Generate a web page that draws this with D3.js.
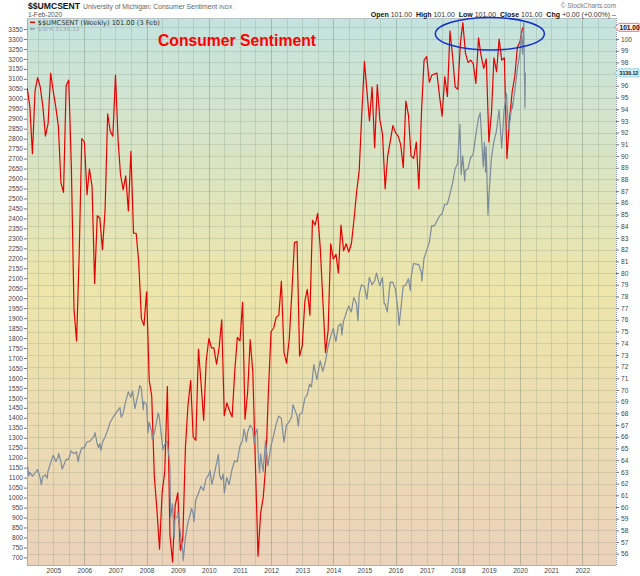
<!DOCTYPE html>
<html>
<head>
<meta charset="utf-8">
<script src="https://cdn.jsdelivr.net/npm/d3@7"></script>
<style>
  html, body { margin: 0; padding: 0; background: #fff; }
  svg { display: block; font-family: "Liberation Sans", Arial, sans-serif; }
  .axis text { font-size: 6.6px; fill: #444; }
  .axis line { stroke: #777; }
  .axis path { display: none; }
</style>
</head>
<body>
<div id="chart"></div>
<script>
/* $$UMCSENT weekly (red, right axis) with $SPX overlay (grey, left axis) */

// University of Michigan sentiment, monthly values Mar 2004 .. Feb 2020
const sentStart = "2004-03-01";
const sentValues = [
  95.8, 94.2, 90.2, 95.6, 96.7, 95.9, 94.2, 91.7, 92.8, 97.1,
  95.5, 94.1, 92.6, 87.7, 86.9, 96.0, 96.5, 89.1, 76.9, 74.2, 81.6, 91.5,
  91.2, 86.7, 88.9, 87.4, 79.1, 84.9, 84.7, 82.0, 85.4, 93.6, 92.1, 91.7,
  96.9, 91.3, 88.4, 87.1, 88.3, 85.3, 90.4, 83.4, 83.4, 80.9, 76.1, 75.5,
  78.4, 70.8, 69.5, 62.6, 59.8, 56.4, 61.2, 63.0, 70.3, 57.6, 55.3, 60.1,
  61.2, 56.3, 57.3, 65.1, 68.7, 70.8, 66.0, 65.7, 73.5, 70.6, 67.4, 72.5,
  74.4, 73.6, 73.6, 72.2, 73.6, 76.0, 67.8, 68.9, 68.2, 67.7, 71.6, 74.5,
  74.2, 77.5, 67.5, 69.8, 74.3, 71.5, 63.7, 55.8, 59.5, 60.8, 63.7, 69.9,
  75.0, 75.3, 76.2, 76.4, 79.3, 73.2, 72.3, 74.3, 78.3, 82.6, 82.7, 72.9,
  73.8, 77.6, 78.6, 76.4, 84.5, 84.1, 85.1, 82.1, 77.5, 73.2, 75.1, 82.5,
  81.2, 81.6, 80.0, 84.1, 81.9, 82.5, 81.8, 82.5, 84.6, 86.9, 88.8, 93.6,
  98.1, 95.4, 93.0, 95.9, 90.7, 96.1, 93.1, 91.9, 87.2, 90.0, 91.3, 92.6,
  92.0, 91.7, 91.0, 89.0, 94.7, 93.5, 90.0, 89.8, 91.2, 87.2, 93.8, 98.2,
  98.5, 96.3, 96.9, 97.0, 97.1, 95.1, 93.4, 96.8, 95.1, 100.7, 98.5, 95.9,
  95.7, 99.7, 101.4, 98.8, 98.0, 98.2, 97.9, 96.2, 100.1, 98.6, 97.5, 98.3,
  91.2, 93.8, 98.4, 97.2, 100.0, 98.2, 98.4, 89.8, 93.2, 95.5, 96.8, 99.3,
  99.8, 101.0
];

// S&P 500 closes (month ends plus notable weekly swings)
const spxPoints = [
  ["2004-03-05",1156.9],["2004-03-19",1109.8],["2004-03-31",1126.2],["2004-04-30",1107.3],["2004-05-28",1120.7],
  ["2004-06-30",1140.8],["2004-07-30",1101.7],["2004-08-13",1064.8],["2004-08-31",1104.2],["2004-09-30",1114.6],
  ["2004-10-22",1095.7],["2004-10-29",1130.2],["2004-11-30",1173.8],["2004-12-31",1211.9],
  ["2005-01-31",1181.3],["2005-02-28",1203.6],["2005-03-04",1222.1],["2005-03-31",1180.6],["2005-04-15",1142.6],
  ["2005-04-29",1156.9],["2005-05-31",1191.5],["2005-06-30",1191.3],["2005-07-29",1234.2],["2005-08-31",1220.3],
  ["2005-09-30",1228.8],["2005-10-21",1179.6],["2005-10-31",1207.0],["2005-11-30",1249.5],["2005-12-30",1248.3],
  ["2006-01-31",1280.1],["2006-02-28",1280.7],["2006-03-31",1294.8],["2006-04-28",1310.6],["2006-05-05",1325.8],
  ["2006-05-31",1270.1],["2006-06-16",1251.5],["2006-06-30",1270.2],["2006-07-14",1236.2],["2006-07-31",1276.7],
  ["2006-08-31",1303.8],["2006-09-29",1335.9],["2006-10-31",1377.9],["2006-11-30",1400.6],["2006-12-29",1418.3],
  ["2007-01-31",1438.2],["2007-02-23",1451.2],["2007-03-09",1402.8],["2007-03-30",1420.9],["2007-04-30",1482.4],
  ["2007-05-31",1530.6],["2007-06-29",1503.4],["2007-07-20",1534.1],["2007-08-17",1445.9],["2007-08-31",1474.0],
  ["2007-09-28",1526.8],["2007-10-12",1561.8],["2007-10-31",1549.4],["2007-11-23",1440.7],["2007-11-30",1481.1],
  ["2007-12-31",1468.4],
  ["2008-01-18",1325.2],["2008-01-31",1378.6],["2008-02-29",1330.6],["2008-03-07",1293.4],["2008-03-31",1322.7],
  ["2008-04-30",1385.6],["2008-05-16",1425.4],["2008-05-30",1400.4],["2008-06-30",1280.0],["2008-07-11",1239.5],
  ["2008-07-31",1267.4],["2008-08-29",1282.8],["2008-09-30",1166.4],["2008-10-10",899.2],["2008-10-31",968.8],
  ["2008-11-21",800.0],["2008-11-28",896.2],["2008-12-31",903.3],
  ["2009-01-02",931.8],["2009-01-30",825.9],["2009-02-27",735.1],["2009-03-06",683.4],["2009-03-31",797.9],
  ["2009-04-30",872.8],["2009-05-29",919.1],["2009-06-12",946.2],["2009-06-30",919.3],["2009-07-10",879.1],
  ["2009-07-31",987.5],["2009-08-31",1020.6],["2009-09-30",1057.1],["2009-10-30",1036.2],["2009-11-30",1095.6],
  ["2009-12-31",1115.1],
  ["2010-01-15",1136.0],["2010-02-05",1066.2],["2010-02-26",1104.5],["2010-03-31",1169.4],["2010-04-23",1217.3],
  ["2010-05-07",1110.9],["2010-05-28",1089.4],["2010-06-18",1117.5],["2010-07-02",1022.6],["2010-07-30",1101.6],
  ["2010-08-27",1064.6],["2010-09-30",1141.2],["2010-10-29",1183.3],["2010-11-30",1180.6],["2010-12-31",1257.6],
  ["2011-01-31",1286.1],["2011-02-18",1343.0],["2011-03-18",1279.2],["2011-03-31",1325.8],["2011-04-29",1363.6],
  ["2011-05-31",1345.2],["2011-06-17",1271.5],["2011-06-30",1320.6],["2011-07-22",1345.0],["2011-08-05",1199.4],
  ["2011-08-19",1123.5],["2011-08-31",1218.9],["2011-09-30",1131.4],["2011-10-28",1285.1],["2011-11-25",1158.7],
  ["2011-12-30",1257.6],
  ["2012-01-31",1312.4],["2012-02-29",1365.7],["2012-03-30",1408.5],["2012-04-30",1397.9],["2012-06-01",1278.0],
  ["2012-06-29",1362.2],["2012-07-31",1379.3],["2012-08-31",1406.6],["2012-09-14",1465.8],["2012-10-31",1412.2],
  ["2012-11-16",1359.9],["2012-11-30",1416.2],["2012-12-31",1426.2],
  ["2013-01-31",1498.1],["2013-02-28",1514.7],["2013-03-28",1569.2],["2013-04-19",1555.3],["2013-04-30",1597.6],
  ["2013-05-17",1667.5],["2013-06-21",1592.4],["2013-06-28",1606.3],["2013-07-31",1685.7],["2013-08-30",1633.0],
  ["2013-09-30",1681.6],["2013-10-31",1756.5],["2013-11-29",1805.8],["2013-12-31",1848.4],
  ["2014-01-31",1782.6],["2014-02-28",1859.5],["2014-03-31",1872.3],["2014-04-11",1815.7],["2014-04-30",1884.0],
  ["2014-05-30",1923.6],["2014-06-30",1960.2],["2014-07-31",1930.7],["2014-08-29",2003.4],["2014-09-30",1972.3],
  ["2014-10-17",1886.8],["2014-10-31",2018.1],["2014-11-28",2067.6],["2014-12-31",2058.9],
  ["2015-01-30",1995.0],["2015-02-27",2104.5],["2015-03-31",2067.9],["2015-04-30",2085.5],["2015-05-22",2126.1],
  ["2015-06-30",2063.1],["2015-07-31",2103.8],["2015-08-21",1970.9],["2015-08-31",1972.2],["2015-09-25",1931.3],
  ["2015-10-30",2079.4],["2015-11-30",2080.4],["2015-12-31",2043.9],
  ["2016-01-29",1940.2],["2016-02-12",1864.8],["2016-02-29",1932.2],["2016-03-31",2059.7],["2016-04-29",2065.3],
  ["2016-05-31",2097.0],["2016-06-24",2037.4],["2016-06-30",2098.9],["2016-07-29",2173.6],["2016-08-31",2171.0],
  ["2016-09-30",2168.3],["2016-10-31",2126.2],["2016-11-04",2085.2],["2016-11-30",2198.8],["2016-12-30",2238.8],
  ["2017-01-31",2278.9],["2017-02-28",2363.6],["2017-03-31",2362.7],["2017-04-28",2384.2],["2017-05-31",2411.8],
  ["2017-06-30",2423.4],["2017-07-31",2470.3],["2017-08-31",2471.7],["2017-09-29",2519.4],["2017-10-31",2575.3],
  ["2017-11-30",2647.6],["2017-12-29",2673.6],
  ["2018-01-26",2872.9],["2018-02-09",2619.6],["2018-02-28",2713.8],["2018-03-23",2588.3],["2018-03-30",2640.9],
  ["2018-04-30",2648.1],["2018-05-31",2705.3],["2018-06-29",2718.4],["2018-07-31",2816.3],["2018-08-31",2901.5],
  ["2018-09-21",2929.7],["2018-10-26",2658.7],["2018-11-09",2781.0],["2018-11-23",2632.6],["2018-11-30",2760.2],
  ["2018-12-21",2416.6],["2018-12-31",2506.9],
  ["2019-01-31",2704.1],["2019-02-28",2784.5],["2019-03-29",2834.4],["2019-04-30",2945.8],["2019-05-31",2752.1],
  ["2019-06-28",2941.8],["2019-07-26",3025.9],["2019-08-09",2918.7],["2019-08-23",2847.1],["2019-09-30",2976.7],
  ["2019-10-04",2952.0],["2019-10-31",3037.6],["2019-11-29",3141.0],["2019-12-31",3230.8],
  ["2020-01-17",3329.6],["2020-01-31",3225.5],["2020-02-14",3380.2],["2020-02-28",2954.2],["2020-03-04",3130.1]
];

const yearTicks = d3.range(2005, 2023);
const spxTicks = d3.range(700, 3351, 50);
const sentTicks = [56, 57, 58, 59, 60, 61, 62, 63, 64, 65, 66, 67, 68, 69, 70, 71, 72, 73, 74, 75, 76, 77, 78,
  79, 80, 81, 82, 83, 84, 85, 86, 87, 88, 89, 90, 91, 92, 93, 94, 95, 96, 98, 99, 100];  // 97 sits under the SPX tag
const sentLast = 101.00;
const spxLast = 3130.12;

// ---- layout ----
const W = 640, H = 576;
const plot = { left: 27, right: 616, top: 18, bottom: 565 };
const parse = d3.timeParse("%Y-%m-%d");

const sentDates = d3.timeMonth.range(parse(sentStart), d3.timeMonth.offset(parse(sentStart), sentValues.length));
const sent = sentValues.map((v, i) => ({ date: sentDates[i], value: v }));
const spx = spxPoints.map(([d, v]) => ({ date: parse(d), value: v }));

// x calibrated on year marks; the plot window clips the rest
const x = d3.scaleTime()
  .domain([new Date(2005, 0, 1), new Date(2020, 0, 1)])
  .range([53.3, 520]);
const yL = d3.scaleLinear().domain([662, 3405]).range([plot.bottom, plot.top]);
const yR = d3.scaleLinear().domain([55.04, 101.8]).range([plot.bottom, plot.top]);

const svg = d3.select("#chart").append("svg")
  .attr("width", W).attr("height", H);

const defs = svg.append("defs");
const grad = defs.append("linearGradient")
  .attr("id", "bg").attr("x1", 0).attr("x2", 0).attr("y1", 0).attr("y2", 1);
grad.append("stop").attr("offset", "0%").attr("stop-color", "#c4e3df");
grad.append("stop").attr("offset", "50%").attr("stop-color", "#ede5aa");
grad.append("stop").attr("offset", "100%").attr("stop-color", "#ebd2ba");
defs.append("clipPath").attr("id", "clip").append("rect")
  .attr("x", plot.left).attr("y", plot.top)
  .attr("width", plot.right - plot.left).attr("height", plot.bottom - plot.top);

svg.append("rect")
  .attr("x", plot.left).attr("y", plot.top)
  .attr("width", plot.right - plot.left).attr("height", plot.bottom - plot.top)
  .attr("fill", "url(#bg)");

// gridlines
const grid = svg.append("g").attr("clip-path", "url(#clip)");
grid.selectAll("line.h")
  .data(d3.range(56, 102))
  .join("line")
  .attr("x1", plot.left).attr("x2", plot.right)
  .attr("y1", d => Math.round(yR(d)) + 0.5).attr("y2", d => Math.round(yR(d)) + 0.5)
  .attr("stroke", "rgba(110,130,110,0.2)");

const halfYears = d3.range(2004, 2023).flatMap(y => [new Date(y, 0, 1), new Date(y, 6, 1)]);
grid.selectAll("line.v")
  .data(halfYears)
  .join("line")
  .attr("x1", d => Math.round(x(d)) + 0.5).attr("x2", d => Math.round(x(d)) + 0.5)
  .attr("y1", plot.top).attr("y2", plot.bottom)
  .attr("stroke", d => d.getMonth() === 0 && d.getFullYear() % 2 === 0
    ? "rgba(100,120,100,0.36)" : "rgba(110,130,110,0.22)");

// borders
svg.append("line").attr("x1", plot.left + 0.5).attr("x2", plot.left + 0.5)
  .attr("y1", plot.top).attr("y2", plot.bottom).attr("stroke", "#9fb0c4");
svg.append("line").attr("x1", plot.left).attr("x2", plot.right)
  .attr("y1", plot.top + 0.5).attr("y2", plot.top + 0.5).attr("stroke", "#b9c4c8");
svg.append("line").attr("x1", plot.left).attr("x2", plot.right)
  .attr("y1", plot.bottom + 0.5).attr("y2", plot.bottom + 0.5).attr("stroke", "#a9b4bc");
svg.append("line").attr("x1", plot.right + 0.5).attr("x2", plot.right + 0.5)
  .attr("y1", plot.top).attr("y2", plot.bottom)
  .attr("stroke", "#8a96a8").attr("stroke-dasharray", "1,1");

// axes
svg.append("g")
  .attr("class", "axis")
  .attr("transform", `translate(${plot.left},0)`)
  .call(d3.axisLeft(yL).tickValues(spxTicks).tickSize(3).tickPadding(1).tickFormat(d3.format("d")));

svg.append("g")
  .attr("class", "axis")
  .attr("transform", `translate(${plot.right},0)`)
  .call(d3.axisRight(yR).tickValues(sentTicks).tickSize(3).tickPadding(2).tickFormat(d3.format("d")));

svg.append("g")
  .attr("class", "axis")
  .attr("transform", `translate(0,${plot.bottom})`)
  .call(d3.axisBottom(x).tickValues(yearTicks.map(y => new Date(y, 0, 1)))
    .tickSize(0).tickPadding(3).tickFormat(d3.timeFormat("%Y")));

// lines
const lines = svg.append("g").attr("clip-path", "url(#clip)");
lines.append("path")
  .datum(sent)
  .attr("fill", "none")
  .attr("stroke", "#e60000")
  .attr("stroke-width", 1.2)
  .attr("stroke-linejoin", "round")
  .attr("d", d3.line().x(d => x(d.date)).y(d => yR(d.value)));

lines.append("path")
  .datum(spx)
  .attr("fill", "none")
  .attr("stroke", "#7d8c9c")
  .attr("stroke-width", 1.2)
  .attr("stroke-linejoin", "round")
  .attr("d", d3.line().x(d => x(d.date)).y(d => yL(d.value)));

// last-value tags on the right edge
function tag(yPos, label, stroke, fill, size) {
  const g = svg.append("g").attr("transform", `translate(${plot.right - 1},${yPos})`);
  g.append("path")
    .attr("d", "M0,0 L4,-4 L24,-4 L24,4 L4,4 Z")
    .attr("fill", fill).attr("stroke", stroke).attr("stroke-width", 0.8);
  g.append("text").attr("x", 4.5).attr("y", 2.2)
    .attr("font-size", size).attr("font-weight", "bold").attr("fill", "#111")
    .text(label);
}
tag(yR(sentLast), d3.format(".2f")(sentLast), "#e06060", "#fdf0f0", 6.6);
tag(yL(spxLast), d3.format(".2f")(spxLast), "#7cc6d8", "#d2f1f8", 5.2);

// header
const hdr = svg.append("text").attr("x", 28).attr("y", 9);
hdr.append("tspan").attr("font-size", 8.6).attr("font-weight", "bold").attr("fill", "#111").text("$$UMCSENT");
hdr.append("tspan").attr("dx", 3).attr("font-size", 6.8).attr("fill", "#666")
  .text("University of Michigan: Consumer Sentiment ");
hdr.append("tspan").attr("font-size", 5.6).attr("fill", "#666").text("INDX");

svg.append("text").attr("x", 28).attr("y", 17)
  .attr("font-size", 6.6).attr("fill", "#555").text("1-Feb-2020");

svg.append("text").attr("x", plot.right).attr("y", 8).attr("text-anchor", "end")
  .attr("font-size", 6.4).attr("fill", "#777").text("\u00A9 StockCharts.com");

const ohlc = svg.append("text").attr("x", plot.right).attr("y", 17)
  .attr("text-anchor", "end").attr("font-size", 7).attr("fill", "#333");
[["Open", " 101.00  "], ["High", " 101.00  "], ["Low", " 101.00  "], ["Close", " 101.00  "], ["Chg", " +0.00 (+0.00%) \u2013"]]
  .forEach(([k, v]) => {
    ohlc.append("tspan").attr("font-weight", "bold").attr("fill", "#111").text(k);
    ohlc.append("tspan").attr("xml:space", "preserve").text(v);
  });

// legend inside the plot
const leg = svg.append("g").attr("font-family", "'DejaVu Sans', Verdana, sans-serif");
leg.append("line").attr("x1", 30).attr("x2", 35).attr("y1", 22.3).attr("y2", 22.3)
  .attr("stroke", "#e60000").attr("stroke-width", 1.4);
leg.append("text").attr("x", 37.7).attr("y", 24.5).attr("font-size", 6.6).attr("fill", "#333")
  .text("$$UMCSENT (Weekly) 101.00 (3 Feb)");
leg.append("line").attr("x1", 30).attr("x2", 35).attr("y1", 29).attr("y2", 29)
  .attr("stroke", "#8a98a8").attr("stroke-width", 1.4);
leg.append("text").attr("x", 37.7).attr("y", 31.2).attr("font-size", 6).attr("fill", "#9aa6ae")
  .text("$SPX 3130.12");

// annotation
svg.append("text").attr("x", 158).attr("y", 45.7)
  .attr("font-size", 15.8).attr("font-weight", "bold").attr("fill", "#ff0000")
  .attr("textLength", 158).attr("lengthAdjust", "spacingAndGlyphs")
  .text("Consumer Sentiment");

svg.append("ellipse")
  .attr("cx", x(parse("2019-01-12"))).attr("cy", yR(100.45))
  .attr("rx", 54.5).attr("ry", 16.3)
  .attr("fill", "none").attr("stroke", "#1530d0").attr("stroke-width", 1.5);
</script>
</body>
</html>
